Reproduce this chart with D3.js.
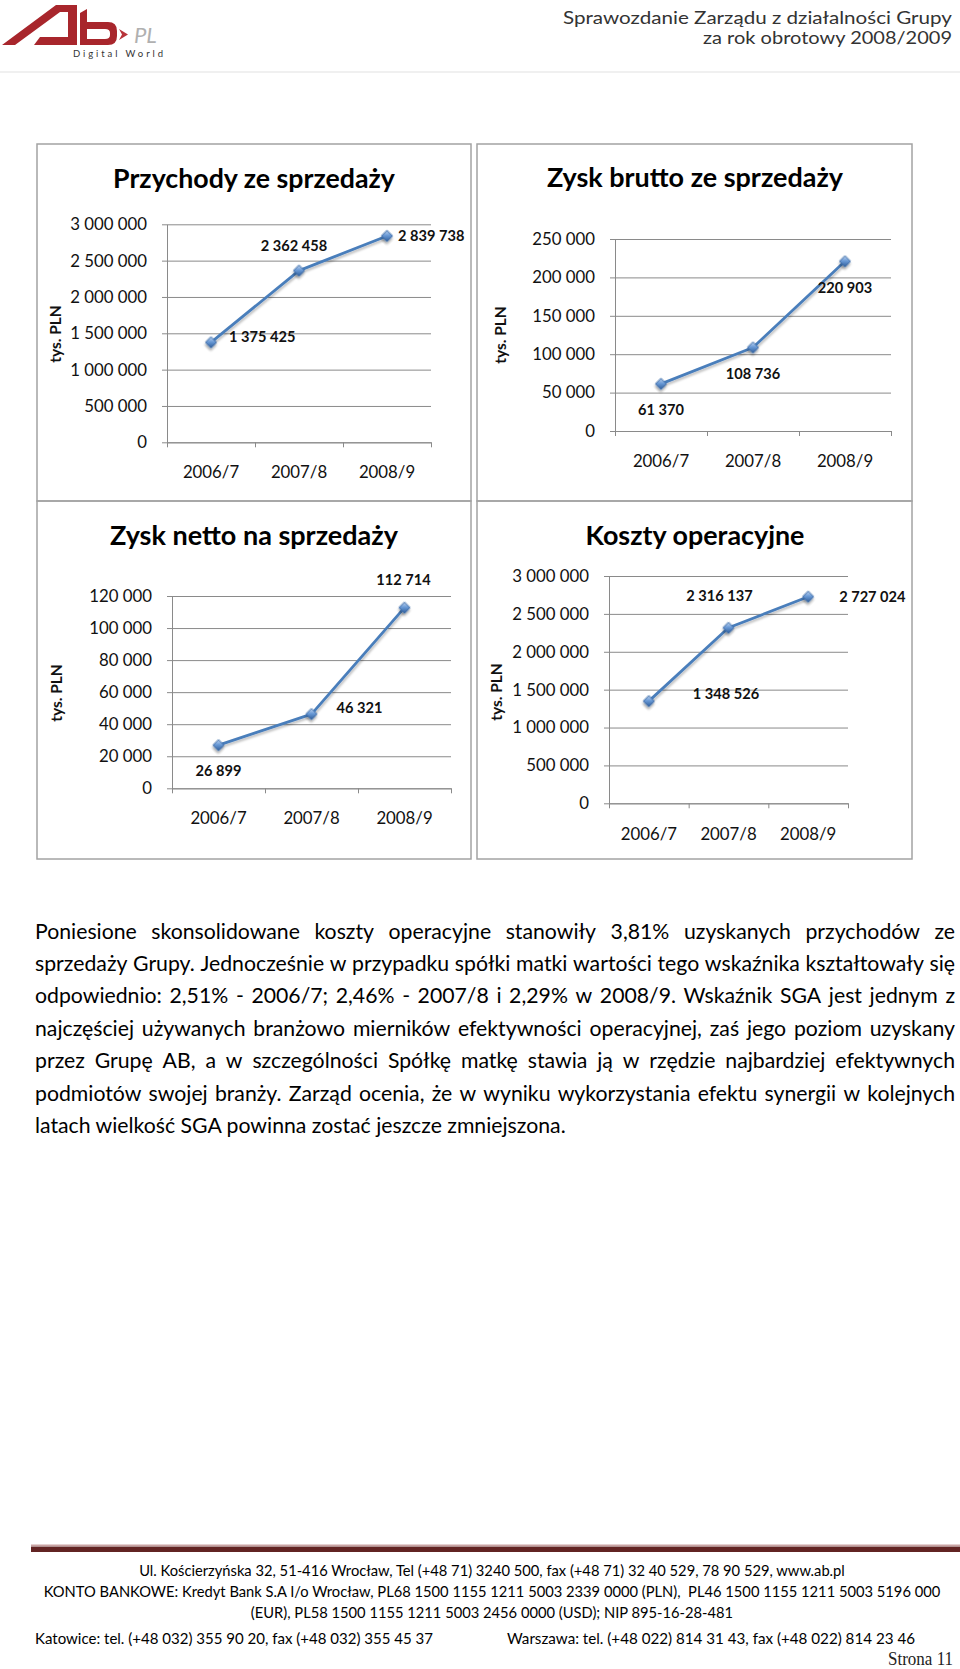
<!DOCTYPE html>
<html><head><meta charset="utf-8">
<script src="https://cdn.jsdelivr.net/npm/d3@7"></script>
<style>body{margin:0;background:#fff} svg{display:block;font-family:Lato,"Open Sans",sans-serif}</style>
</head><body>
<svg id="page" width="960" height="1669"></svg>
<script>
// ---------------- DATA ----------------
const categories = ["2006/7", "2007/8", "2008/9"];
const przychody = [1375425, 2362458, 2839738];
const zyskBrutto = [61370, 108736, 220903];
const zyskNetto = [26899, 46321, 112714];
const koszty = [1348526, 2316137, 2727024];
const ticksPrzychody = [0, 500000, 1000000, 1500000, 2000000, 2500000, 3000000];
const ticksBrutto = [0, 50000, 100000, 150000, 200000, 250000];
const ticksNetto = [0, 20000, 40000, 60000, 80000, 100000, 120000];
const ticksKoszty = [0, 500000, 1000000, 1500000, 2000000, 2500000, 3000000];
const titles = ["Przychody ze sprzedaży", "Zysk brutto ze sprzedaży", "Zysk netto na sprzedaży", "Koszty operacyjne"];
const yAxisLabel = "tys. PLN";
const headerLines = ["Sprawozdanie Zarządu z działalności Grupy", "za rok obrotowy 2008/2009"];
const paraLines = [
  "Poniesione skonsolidowane koszty operacyjne stanowiły 3,81% uzyskanych przychodów ze",
  "sprzedaży Grupy. Jednocześnie w przypadku spółki matki wartości tego wskaźnika kształtowały się",
  "odpowiednio: 2,51% - 2006/7; 2,46% - 2007/8 i 2,29% w 2008/9. Wskaźnik SGA jest jednym z",
  "najczęściej używanych branżowo mierników efektywności operacyjnej, zaś jego poziom uzyskany",
  "przez Grupę AB, a w szczególności Spółkę matkę stawia ją w rzędzie najbardziej efektywnych",
  "podmiotów swojej branży. Zarząd ocenia, że w wyniku wykorzystania efektu synergii w kolejnych",
  "latach wielkość SGA powinna zostać jeszcze zmniejszona."
];
const footerLines = [
  "Ul. Kościerzyńska 32, 51-416 Wrocław, Tel (+48 71) 3240 500, fax (+48 71) 32 40 529, 78 90 529, www.ab.pl",
  "KONTO BANKOWE: Kredyt Bank S.A I/o Wrocław, PL68 1500 1155 1211 5003 2339 0000 (PLN),  PL46 1500 1155 1211 5003 5196 000",
  "(EUR), PL58 1500 1155 1211 5003 2456 0000 (USD); NIP 895-16-28-481"
];
const footerLeft = "Katowice: tel. (+48 032) 355 90 20, fax (+48 032) 355 45 37";
const footerRight = "Warszawa: tel. (+48 022) 814 31 43, fax (+48 022) 814 23 46";
const pageLabel = "Strona 11";

// ---------------- LAYOUT ----------------
const layouts = [
  {title: titles[0], values: przychody, ticks: ticksPrzychody, panel: [37,144,471,501],
   x0:167, x1:431, y0:442.3, y1:224.3, tx:254, ty:188, tw:282, xly:478, ax:61, ay:334,
   labels:[{dx:18,dy:0,a:"start"},{dx:-5,dy:-20,a:"middle"},{dx:11,dy:5,a:"start"}]},
  {title: titles[1], values: zyskBrutto, ticks: ticksBrutto, panel: [477,144,912,501],
   x0:615, x1:891, y0:431, y1:239, tx:695, ty:187, tw:296, xly:467, ax:506, ay:335,
   labels:[{dx:0,dy:31.5,a:"middle"},{dx:0,dy:31.5,a:"middle"},{dx:0,dy:31.5,a:"middle"}]},
  {title: titles[2], values: zyskNetto, ticks: ticksNetto, panel: [37,501,471,859],
   x0:172, x1:451, y0:788.3, y1:596, tx:254, ty:545, tw:288, xly:824, ax:62, ay:693,
   labels:[{dx:0,dy:31,a:"middle"},{dx:25,dy:-1,a:"start"},{dx:-1,dy:-23,a:"middle"}]},
  {title: titles[3], values: koszty, ticks: ticksKoszty, panel: [477,501,912,859],
   x0:609, x1:848, y0:803.3, y1:576, tx:695, ty:545, tw:219, xly:840, ax:502, ay:692,
   labels:[{dx:44,dy:-2,a:"start"},{dx:-9,dy:-27,a:"middle"},{dx:31,dy:5,a:"start"}]}
];

const FONT = "Lato";
const fmt = d3.formatLocale({decimal: ",", thousands: " ", grouping: [3], currency: ["", ""]}).format(",d");
const svg = d3.select("#page");

function measure(str, size, weight) {
  const t = svg.append("text").attr("font-family", FONT).attr("font-size", size)
    .attr("font-weight", weight || 400).style("white-space", "pre").text(str);
  const w = t.node().getComputedTextLength();
  t.remove();
  return w;
}

// defs
const defs = svg.append("defs");
const grad = defs.append("linearGradient").attr("id", "mk").attr("x1", 0).attr("y1", 0).attr("x2", 1).attr("y2", 1);
grad.append("stop").attr("offset", "0%").attr("stop-color", "#c3d6f0");
grad.append("stop").attr("offset", "45%").attr("stop-color", "#6a9ad6");
grad.append("stop").attr("offset", "100%").attr("stop-color", "#2d5d9b");
const sh = defs.append("filter").attr("id", "sh").attr("x", "-50%").attr("y", "-50%").attr("width", "200%").attr("height", "200%");
sh.append("feDropShadow").attr("dx", 1.5).attr("dy", 2).attr("stdDeviation", 1.2).attr("flood-color", "#000").attr("flood-opacity", 0.35);
const shl = defs.append("filter").attr("id", "shl").attr("x", "-10%").attr("y", "-10%").attr("width", "120%").attr("height", "130%");
shl.append("feDropShadow").attr("dx", 1).attr("dy", 2).attr("stdDeviation", 1.2).attr("flood-color", "#000").attr("flood-opacity", 0.25);

// ---------------- HEADER ----------------
const logo = svg.append("g");
logo.append("path").attr("fill", "#a8262c")
  .attr("d", "M2,45 L15,45 L60,12 L68,12 L68,37 L40,37 L34,45 L77,45 L77,5 L56,5 Z");
logo.append("path").attr("fill", "#a8262c").attr("d", "M80,13 L87,9 L87,45 L80,45 Z");
logo.append("path").attr("fill", "#a8262c").attr("fill-rule", "evenodd")
  .attr("d", "M87,22 H108 Q117,22 117,31 V36 Q117,45 108,45 H87 Z M87,29 H105 Q110,29 110,33 V35 Q110,39 105,39 H87 Z");
logo.append("path").attr("fill", "#b8343a").attr("d", "M119,29 L128,34.5 L119,40 L122,34.5 Z");
logo.append("text").attr("x", 134).attr("y", 43).attr("font-size", 22).attr("font-style", "italic")
  .attr("font-weight", 400).attr("fill", "#b0b0b0").text("PL");
logo.append("text").attr("x", 73).attr("y", 57).attr("font-size", 9.5).attr("fill", "#333")
  .attr("textLength", 90).attr("lengthAdjust", "spacing").text("Digital World");

svg.append("text").attr("x", 952).attr("y", 23.5).attr("text-anchor", "end").attr("font-size", 16.5)
  .attr("fill", "#333").attr("textLength", 389).attr("lengthAdjust", "spacingAndGlyphs").text(headerLines[0]);
svg.append("text").attr("x", 952).attr("y", 44).attr("text-anchor", "end").attr("font-size", 16.5)
  .attr("fill", "#333").attr("textLength", 249).attr("lengthAdjust", "spacingAndGlyphs").text(headerLines[1]);
svg.append("line").attr("x1", 0).attr("x2", 960).attr("y1", 72).attr("y2", 72).attr("stroke", "#f0f0f0").attr("stroke-width", 2);

// ---------------- CHARTS ----------------
function drawChart(cfg) {
  const gC = svg.append("g");
  const [px0, py0, px1, py1] = cfg.panel;
  gC.append("rect").attr("x", px0).attr("y", py0).attr("width", px1 - px0).attr("height", py1 - py0)
    .attr("fill", "none").attr("stroke", "#a3a3a3").attr("stroke-width", 1.5);

  const x = d3.scaleBand().domain(categories).range([cfg.x0, cfg.x1]);
  const xEdge = d3.scaleLinear().domain([0, categories.length]).range([cfg.x0, cfg.x1]);
  const y = d3.scaleLinear().domain([0, d3.max(cfg.ticks)]).range([cfg.y0, cfg.y1]);
  const AX = "#8a8a8a";

  // gridlines
  gC.append("g").attr("transform", `translate(${cfg.x0},0)`)
    .call(d3.axisLeft(y).tickValues(cfg.ticks).tickSize(-(cfg.x1 - cfg.x0)).tickFormat(""))
    .call(g => g.select(".domain").remove())
    .selectAll("line").attr("stroke", AX);

  // y axis
  const ya = gC.append("g").attr("transform", `translate(${cfg.x0},0)`)
    .call(d3.axisLeft(y).tickValues(cfg.ticks).tickSize(5).tickSizeOuter(0).tickPadding(15).tickFormat(fmt))
    .attr("font-family", null).attr("font-size", null);
  ya.select(".domain").attr("stroke", AX);
  ya.selectAll("line").attr("stroke", AX);
  ya.selectAll("text").attr("font-size", 16.8).attr("fill", "#111");

  // x axis boundary ticks
  const xa = gC.append("g").attr("transform", `translate(0,${cfg.y0})`)
    .call(d3.axisBottom(xEdge).tickValues(d3.range(categories.length + 1)).tickSize(5).tickSizeOuter(0).tickFormat(""));
  xa.select(".domain").attr("stroke", AX);
  xa.selectAll("line").attr("stroke", AX);

  // x labels
  const xl = gC.append("g").attr("transform", `translate(0,${cfg.xly})`)
    .call(d3.axisBottom(x).tickSize(0).tickPadding(0))
    .attr("font-family", null).attr("font-size", null);
  xl.select(".domain").remove();
  xl.selectAll("text").attr("dy", null).attr("y", 0).attr("font-size", 16.8).attr("fill", "#111");

  // line
  const cx = (d, i) => x(categories[i]) + x.bandwidth() / 2;
  gC.append("path").datum(cfg.values)
    .attr("d", d3.line().x(cx).y(d => y(d)))
    .attr("fill", "none").attr("stroke", "#4a7ebb").attr("stroke-width", 2.8)
    .attr("stroke-linejoin", "round").attr("filter", "url(#shl)");

  // markers
  gC.append("g").selectAll("path").data(cfg.values).join("path")
    .attr("d", d3.symbol(d3.symbolSquare, 62))
    .attr("transform", (d, i) => `translate(${cx(d, i)},${y(d)}) rotate(45)`)
    .attr("fill", "url(#mk)").attr("stroke", "#3868a6").attr("stroke-width", 0.8)
    .attr("filter", "url(#sh)");

  // data labels
  gC.append("g").selectAll("text").data(cfg.values).join("text")
    .attr("x", (d, i) => cx(d, i) + cfg.labels[i].dx)
    .attr("y", d => y(d))
    .attr("dy", (d, i) => cfg.labels[i].dy)
    .attr("text-anchor", (d, i) => cfg.labels[i].a)
    .attr("font-size", 14.6).attr("font-weight", 700).attr("fill", "#111")
    .text(d => fmt(d));

  // axis title
  gC.append("text").attr("transform", `translate(${cfg.ax},${cfg.ay}) rotate(-90)`)
    .attr("text-anchor", "middle").attr("font-size", 15.5).attr("font-weight", 700).attr("fill", "#111")
    .text(yAxisLabel);

  // chart title
  const tw = measure(cfg.title, 100, 700);
  gC.append("text").attr("x", cfg.tx).attr("y", cfg.ty).attr("text-anchor", "middle")
    .attr("font-size", 100 * cfg.tw / tw).attr("font-weight", 700).attr("fill", "#000")
    .text(cfg.title);
}
layouts.forEach(drawChart);

// ---------------- PARAGRAPH ----------------
const pLeft = 35, pWidth = 920, pBase0 = 938.5, pStep = 32.45;
const pSize = 100 * 531 / measure(paraLines[paraLines.length - 1], 100);
paraLines.forEach((line, i) => {
  const t = svg.append("text").attr("font-size", pSize).attr("fill", "#000").attr("y", pBase0 + i * pStep);
  if (i === paraLines.length - 1) { t.attr("x", pLeft).text(line); return; }
  const words = line.split(" ");
  const ws = words.map(w => measure(w, pSize));
  const sum = d3.sum(ws);
  let gap = (pWidth - sum) / (words.length - 1);
  const minGap = pSize * 0.14;
  let k = 1;
  if (gap < minGap) { k = pWidth / (sum + minGap * (words.length - 1)); gap = minGap; }
  let pos = 0;
  words.forEach((w, j) => { t.append("tspan").attr("x", pLeft + pos).text(w); pos += ws[j] + gap; });
  if (k < 1) t.attr("transform", `translate(${pLeft},0) scale(${k},1) translate(${-pLeft},0)`);
});

// ---------------- FOOTER ----------------
svg.append("rect").attr("x", 31).attr("y", 1544.5).attr("width", 929).attr("height", 1.5).attr("fill", "#c9a3a3");
svg.append("rect").attr("x", 31).attr("y", 1546.5).attr("width", 929).attr("height", 5.5).attr("fill", "#622423");
const fSize = 100 * 897 / measure(footerLines[1], 100);
const fCenter = 492;
const fBase = [1576, 1597, 1618];
footerLines.forEach((line, i) => {
  svg.append("text").attr("x", fCenter).attr("y", fBase[i]).attr("text-anchor", "middle")
    .attr("font-size", fSize).attr("fill", "#000").style("white-space", "pre").text(line);
});
svg.append("text").attr("x", 35).attr("y", 1644).attr("font-size", fSize).attr("fill", "#000")
  .attr("textLength", 398).attr("lengthAdjust", "spacingAndGlyphs").text(footerLeft);
svg.append("text").attr("x", 507).attr("y", 1644).attr("font-size", fSize).attr("fill", "#000")
  .attr("textLength", 408).attr("lengthAdjust", "spacingAndGlyphs").text(footerRight);
svg.append("text").attr("x", 953).attr("y", 1665).attr("text-anchor", "end")
  .attr("font-family", "Liberation Serif, DejaVu Serif, serif").attr("font-size", 19).attr("fill", "#222")
  .attr("textLength", 65).attr("lengthAdjust", "spacingAndGlyphs").text(pageLabel);
</script>
</body></html>
